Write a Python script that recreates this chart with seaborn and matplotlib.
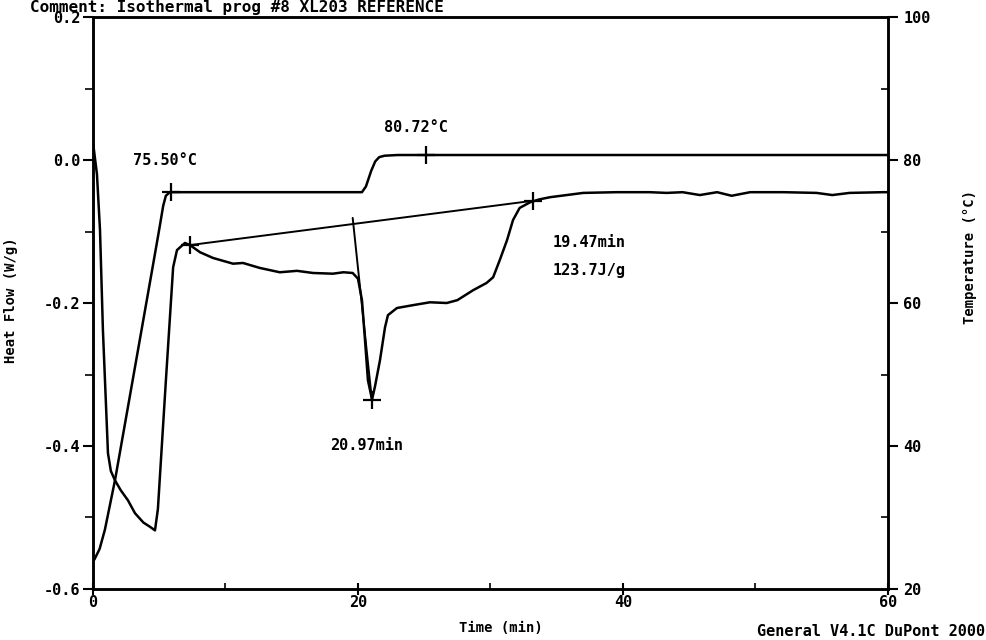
import matplotlib
matplotlib.use("Agg")
import matplotlib.pyplot as plt
import seaborn as sns
from matplotlib.ticker import MultipleLocator, FuncFormatter

# ---- data ----
hf_time = [0.0, 0.3, 0.53, 0.75, 1.06, 1.13, 1.35, 1.66, 2.1, 2.64, 3.17, 3.8, 4.3,
           4.68, 4.9, 5.5, 6.05, 6.34, 6.94, 7.32, 8.08, 9.06, 10.57, 11.32, 12.6,
           14.1, 15.4, 16.6, 18.1, 18.9, 19.6, 19.9, 20.0, 20.3, 20.53, 20.75, 21.06,
           21.28, 21.66, 22.04, 22.26, 22.94, 24.15, 25.43, 26.7, 27.5, 28.7, 29.7,
           30.2, 30.7, 31.25, 31.7, 32.2, 33.0, 33.7, 34.5, 37.0, 39.5, 42.0, 43.3,
           44.5, 45.8, 47.1, 48.2, 49.6, 52.1, 54.6, 55.8, 57.1, 59.6, 60.0]
hf_value = [0.025, -0.02, -0.098, -0.238, -0.378, -0.41, -0.435, -0.448, -0.462,
            -0.476, -0.494, -0.507, -0.513, -0.518, -0.488, -0.309, -0.15, -0.126,
            -0.116, -0.119, -0.129, -0.137, -0.145, -0.144, -0.151, -0.157, -0.155,
            -0.158, -0.159, -0.157, -0.158, -0.164, -0.166, -0.196, -0.252, -0.308,
            -0.335, -0.317, -0.28, -0.234, -0.217, -0.207, -0.203, -0.199, -0.2,
            -0.196, -0.182, -0.172, -0.164, -0.14, -0.112, -0.084, -0.067, -0.059,
            -0.055, -0.052, -0.046, -0.045, -0.045, -0.046, -0.045, -0.049, -0.045,
            -0.05, -0.045, -0.045, -0.046, -0.049, -0.046, -0.045, -0.045]

temp_time = [0.1, 0.5, 0.9, 1.66, 2.5, 3.5, 4.5, 5.0, 5.3, 5.5, 5.8, 12.0, 20.3,
             20.6, 21.0, 21.3, 21.6, 22.0, 23.0, 60.0]
temp_value = [24.1, 25.6, 28.3, 35.2, 44.0, 54.5, 65.0, 70.3, 73.6, 75.0, 75.5, 75.5,
              75.5, 76.3, 78.5, 79.8, 80.4, 80.6, 80.7, 80.7]

baseline_time = [7.32, 33.2]
baseline_hf = [-0.119, -0.057]
drop_time = [19.6, 21.06]
drop_hf = [-0.081, -0.337]

marker_hf_time = [7.32, 21.06, 33.2]
marker_hf_value = [-0.119, -0.335, -0.057]
marker_temp_time = [5.9, 25.1]
marker_temp_value = [75.5, 80.72]

hf_ticks = [0.2, 0.0, -0.2, -0.4, -0.6]
temp_ticks = [20, 40, 60, 80, 100]
time_ticks = [0, 20, 40, 60]

# ---- style ----
sns.set_theme(style="white")
plt.rcParams["font.family"] = ["DejaVu Sans Mono", "DejaVu Sans"]
plt.rcParams["font.weight"] = "bold"
FS = 11

fig = plt.figure(figsize=(9.86, 6.4), dpi=100, facecolor="white")
ax = fig.add_axes([0.0943, 0.0797, 0.8063, 0.8937])
ax2 = ax.twinx()

lw = 1.8
sns.lineplot(x=hf_time, y=hf_value, ax=ax, color="black", lw=lw, sort=False, estimator=None)
sns.lineplot(x=baseline_time, y=baseline_hf, ax=ax, color="black", lw=1.4, sort=False, estimator=None)
sns.lineplot(x=drop_time, y=drop_hf, ax=ax, color="black", lw=1.4, sort=False, estimator=None)
ax.plot(marker_hf_time, marker_hf_value, ls="none", marker="+", ms=13, mew=1.6, color="black")

sns.lineplot(x=temp_time, y=temp_value, ax=ax2, color="black", lw=lw, sort=False, estimator=None)
ax2.plot(marker_temp_time, marker_temp_value, ls="none", marker="+", ms=13, mew=1.6, color="black")

ax.set_xlim(0, 60)
ax.set_ylim(-0.6, 0.2)
ax2.set_ylim(20, 100)

ax.set_xticks(time_ticks)
ax.set_yticks(hf_ticks)
ax2.set_yticks(temp_ticks)
ax.xaxis.set_minor_locator(MultipleLocator(10))
ax.yaxis.set_minor_locator(MultipleLocator(0.1))
ax2.yaxis.set_minor_locator(MultipleLocator(10))
ax.yaxis.set_major_formatter(FuncFormatter(lambda v, p: f"{v:.1f}"))
ax.xaxis.set_major_formatter(FuncFormatter(lambda v, p: f"{v:.0f}"))
ax2.yaxis.set_major_formatter(FuncFormatter(lambda v, p: f"{v:.0f}"))

for a in (ax, ax2):
    for s in a.spines.values():
        s.set_visible(True)
        s.set_color("black")
        s.set_linewidth(1.8)

ax.tick_params(axis="y", which="major", left=True, direction="out", length=7, width=1.5,
               color="black", labelsize=FS, labelcolor="black", pad=2)
ax.tick_params(axis="y", which="minor", left=True, direction="out", length=6, width=1.2, color="black")
ax.tick_params(axis="x", which="major", bottom=True, direction="inout", length=9, width=1.5,
               color="black", labelsize=FS, labelcolor="black", pad=0)
ax.tick_params(axis="x", which="minor", bottom=True, direction="in", length=4, width=1.2, color="black")
ax2.tick_params(axis="y", which="major", right=True, direction="out", length=7, width=1.5,
                color="black", labelsize=FS, labelcolor="black", pad=4)
ax2.tick_params(axis="y", which="minor", right=True, direction="in", length=5, width=1.2, color="black")

ax.set_xlabel("Time (min)", fontsize=FS - 1, fontweight="bold", color="black")
ax.xaxis.set_label_coords(0.513, -0.056)
ax.set_ylabel("Heat Flow (W/g)", fontsize=FS - 1, fontweight="bold", color="black")
ax.yaxis.set_label_coords(-0.094, 0.505)
ax2.set_ylabel("Temperature (°C)", fontsize=FS - 1, fontweight="bold", color="black")
ax2.yaxis.set_label_coords(1.094, 0.58)

ax.text(3.0, 0.0, "75.50°C", fontsize=FS, va="center", ha="left", color="black")
ax.text(22.0, 0.046, "80.72°C", fontsize=FS, va="center", ha="left", color="black")
ax.text(34.7, -0.116, "19.47min", fontsize=FS, va="center", ha="left", color="black")
ax.text(34.7, -0.154, "123.7J/g", fontsize=FS, va="center", ha="left", color="black")
ax.text(17.9, -0.399, "20.97min", fontsize=FS, va="center", ha="left", color="black")

fig.text(0.03, 0.9995, "Comment: Isothermal prog #8 XL203 REFERENCE", fontsize=FS + 0.5,
         va="top", ha="left", color="black")
fig.text(0.999, 0.0125, "General V4.1C DuPont 2000", fontsize=FS, va="center", ha="right",
         color="black")

fig.savefig("out.png", dpi=100, facecolor="white")
